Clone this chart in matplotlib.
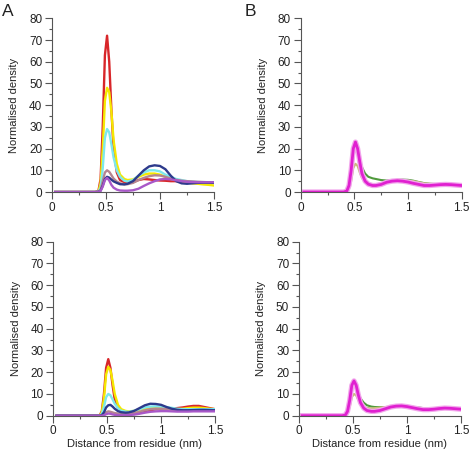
import matplotlib
matplotlib.use("Agg")
import matplotlib.pyplot as plt
from matplotlib.ticker import MultipleLocator
import matplotlib.patheffects as pe

plt.rcParams['font.family'] = ['Liberation Sans', 'DejaVu Sans']

x = [0.03, 0.40, 0.43, 0.45, 0.47, 0.49, 0.51, 0.53, 0.55, 0.57, 0.60, 0.63, 0.67, 0.70,
     0.75, 0.80, 0.85, 0.90, 0.95, 1.00, 1.05, 1.10, 1.15, 1.20, 1.25, 1.30, 1.35, 1.40, 1.45, 1.50]

# Panel A (top-left)
a_red = [0, 0, 0.5, 6, 30, 63, 72, 60, 38, 20, 9, 5.5, 4.5, 4.2, 4.5, 5.5, 6, 5.8, 5.5, 5.3, 5.2, 5, 5, 4.8, 4.7, 4.6, 4.5, 4.5, 4.4, 4.3]
a_yellow = [0, 0, 0.3, 4, 20, 42, 48, 46, 37, 24, 13, 8, 6, 5.5, 5.8, 7, 8, 8.5, 8.5, 8, 7, 6, 5.5, 5, 4.5, 4, 3.8, 3.5, 3.3, 3]
a_cyan = [0, 0, 0.2, 2, 11, 25, 29, 27.5, 22, 16, 10, 7, 5.2, 4.8, 5.5, 7.5, 9, 10, 10, 9.5, 8, 7, 6, 5.5, 5, 4.8, 4.6, 4.5, 4.4, 4.3]
a_rosy = [0, 0, 0.1, 1, 5, 9, 10, 9.3, 7.8, 6.2, 4.8, 4, 3.6, 3.6, 4.2, 5.5, 6.5, 7.3, 7.7, 7.6, 7, 6.2, 5.6, 5.2, 5, 4.8, 4.7, 4.6, 4.5, 4.5]
a_navy = [0, 0, 0.1, 0.6, 3, 6, 7, 6.6, 5.7, 4.9, 4.2, 3.6, 3.5, 3.8, 5, 7.5, 10, 11.8, 12.3, 12, 10.5, 7.5, 5, 4, 3.8, 4, 4.2, 4.3, 4.3, 4.2]
a_violet = [0, 0, 0.1, 0.5, 2.5, 5.5, 6.5, 5.3, 3.3, 2, 1.1, 0.7, 0.6, 0.6, 0.8, 1.5, 2.8, 4, 5, 5.8, 6, 5.8, 5.4, 5, 4.7, 4.6, 4.5, 4.5, 4.5, 4.5]

# Panel C (bottom-left)
c_red = [0, 0, 0.2, 2, 10, 22, 26, 22, 14, 7.5, 3.5, 2.2, 1.6, 1.3, 1.1, 1.3, 2, 2.5, 3, 3.2, 3.3, 3.3, 3.5, 3.8, 4.2, 4.5, 4.5, 4, 3.5, 3]
c_yellow = [0, 0, 0.2, 1.5, 8, 19, 22.5, 21, 16, 10, 5, 3, 2.2, 2, 2.2, 2.8, 3.3, 3.6, 3.6, 3.4, 3.2, 3, 3, 3.2, 3.5, 3.7, 3.7, 3.5, 3.2, 3]
c_cyan = [0, 0, 0.1, 0.8, 4, 8.5, 10, 9.4, 7.5, 5.5, 3.4, 2.3, 1.9, 1.8, 2.3, 3, 3.8, 4.2, 4.3, 4.2, 4, 3.6, 3.2, 3, 3, 3, 3, 3, 3, 3]
c_navy = [0, 0, 0, 0.3, 1.5, 3.8, 4.8, 5, 4.2, 3.2, 2.1, 1.6, 1.4, 1.5, 2.2, 3.5, 4.8, 5.5, 5.4, 5, 4, 3.2, 2.7, 2.5, 2.5, 2.6, 2.7, 2.7, 2.6, 2.5]
c_rosy = [0, 0, 0, 0.1, 0.6, 1.6, 2, 1.8, 1.5, 1.2, 1, 0.8, 0.8, 0.9, 1.2, 1.8, 2.5, 3, 3.2, 3.2, 3, 2.8, 2.6, 2.5, 2.5, 2.5, 2.5, 2.5, 2.5, 2.5]
c_violet = [0, 0, 0, 0, 0.2, 0.7, 1, 0.9, 0.6, 0.4, 0.3, 0.2, 0.2, 0.3, 0.5, 0.9, 1.4, 1.8, 2, 2.1, 2.1, 2, 1.9, 1.9, 1.9, 2, 2, 2, 2, 2]

# Panel B (top-right)
b_tan = [0, 0, 0.3, 1.5, 5, 11, 13, 12, 9, 6.5, 4.5, 3.8, 3.5, 3.5, 4, 4.5, 5, 5.2, 5.3, 5.2, 5, 4.5, 4, 3.8, 3.6, 3.5, 3.5, 3.4, 3.3, 3.2]
b_green = [0, 0, 0.5, 3, 9, 18, 21, 19, 15, 11.5, 8.5, 7, 6.3, 6, 5.5, 5.3, 5.4, 5.6, 5.7, 5.6, 5.2, 4.6, 4.1, 3.8, 3.7, 3.6, 3.6, 3.6, 3.5, 3.4]
b_magenta = [0, 0, 0.5, 3, 10, 20, 23, 20, 14, 8.5, 5, 3.6, 3, 3, 3.5, 4.5, 5, 5.2, 5, 4.6, 4, 3.5, 3, 3, 3.2, 3.4, 3.5, 3.4, 3.2, 3]

# Panel D (bottom-right)
d_tan = [0, 0, 0.2, 1, 4, 8.5, 10, 9.3, 7.2, 5.3, 4, 3.6, 3.4, 3.5, 3.7, 4, 4.2, 4.3, 4.3, 4.2, 4, 3.5, 3.2, 3, 3, 3.1, 3.2, 3.2, 3.1, 3]
d_green = [0, 0, 0.3, 2, 6.5, 13, 15, 13.8, 10.5, 8, 6, 4.8, 4.2, 4, 3.9, 3.9, 4, 4.2, 4.3, 4.3, 4.1, 3.8, 3.5, 3.3, 3.2, 3.2, 3.2, 3.2, 3.2, 3.1]
d_magenta = [0, 0, 0.3, 2, 7, 14, 16, 14, 9.5, 6, 3.5, 2.4, 2, 2, 2.4, 3.2, 4, 4.4, 4.5, 4.2, 3.7, 3.2, 2.8, 2.8, 3, 3.3, 3.5, 3.4, 3.2, 3]

xticks = [0, 0.5, 1, 1.5]
xticklabels = ['0', '0.5', '1', '1.5']
yticks = [0, 10, 20, 30, 40, 50, 60, 70, 80]

C_RED = '#d8262a'
C_YEL = '#f5e800'
C_CYAN = '#7de8ec'
C_ROSY = '#b58590'
C_NAVY = '#2d3a8c'
C_VIOL = '#a858c8'
C_TAN = '#c9bc7a'
C_GREEN = '#4f9a3c'
C_MAG = '#e020d0'

fig = plt.figure(figsize=(4.7, 4.5), dpi=100)
TXT = '#222222'
SP = '#555555'
FS = 8


def setup(ax, xlabel):
    ax.set_xlim(0, 1.5)
    ax.set_ylim(0, 80)
    for s in ['top', 'right']:
        ax.spines[s].set_visible(False)
    for s in ['left', 'bottom']:
        ax.spines[s].set_color(SP)
        ax.spines[s].set_linewidth(0.8)
    ax.set_xticks(xticks)
    ax.set_xticklabels(xticklabels)
    ax.set_yticks(yticks)
    ax.xaxis.set_minor_locator(MultipleLocator(0.25))
    ax.yaxis.set_minor_locator(MultipleLocator(5))
    ax.tick_params(axis='both', which='major', direction='out', length=5, width=0.8,
                   color=SP, labelsize=FS + 0.5, labelcolor=TXT, pad=2)
    ax.tick_params(axis='both', which='minor', direction='out', length=2.5, width=0.8, color=SP)
    ax.set_ylabel('Normalised density', fontsize=FS, color=TXT, labelpad=7)
    if xlabel:
        ax.set_xlabel('Distance from residue (nm)', fontsize=FS, color=TXT, labelpad=1)


axA = fig.add_axes([0.1106, 0.5733, 0.3447, 0.386])
axB = fig.add_axes([0.6398, 0.5733, 0.3426, 0.386])
axC = fig.add_axes([0.1134, 0.0762, 0.344, 0.3867])
axD = fig.add_axes([0.636, 0.0762, 0.3447, 0.3867])

LW = 1.7
for ax, series in [(axA, [(a_red, C_RED), (a_yellow, C_YEL), (a_cyan, C_CYAN), (a_rosy, C_ROSY),
                          (a_navy, C_NAVY), (a_violet, C_VIOL)]),
                   (axC, [(c_red, C_RED), (c_yellow, C_YEL), (c_cyan, C_CYAN), (c_rosy, C_ROSY),
                          (c_navy, C_NAVY), (c_violet, C_VIOL)])]:
    for ys, col in series:
        ax.plot(x, ys, color=col, lw=LW, solid_joinstyle='round')

for ax, tan, green, mag in [(axB, b_tan, b_green, b_magenta), (axD, d_tan, d_green, d_magenta)]:
    ax.plot(x, green, color=C_GREEN, lw=1.5)
    ax.plot(x, tan, color=C_TAN, lw=1.5)
    ax.plot(x, mag, color=C_MAG, lw=2.0,
            path_effects=[pe.Stroke(linewidth=3.8, foreground='#f2a6ec'), pe.Normal()])

setup(axA, False)
setup(axB, False)
setup(axC, True)
setup(axD, True)

fig.text(0.005, 0.992, 'A', fontsize=12.5, color=TXT, va='top', ha='left')
fig.text(0.52, 0.992, 'B', fontsize=12.5, color=TXT, va='top', ha='left')

fig.savefig('out.png', dpi=100)
